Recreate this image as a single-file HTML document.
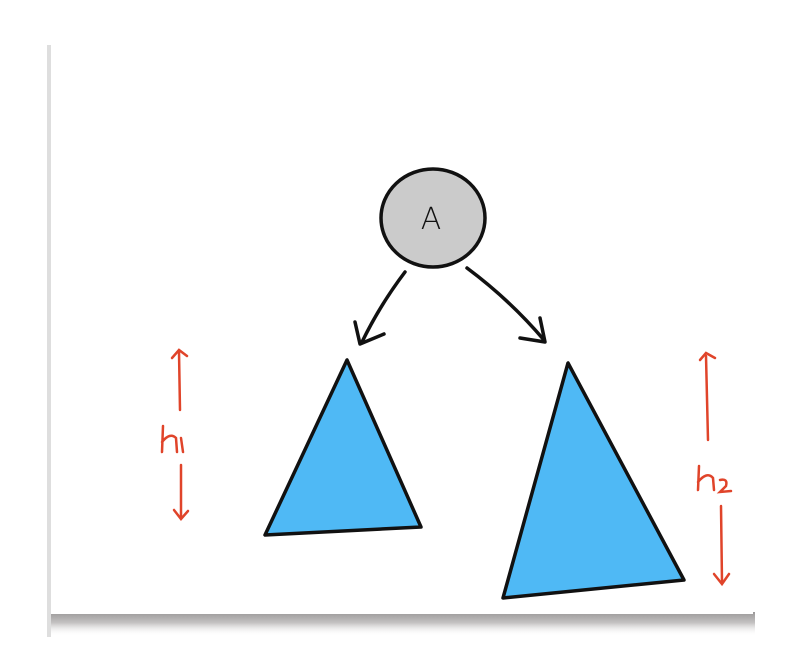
<!DOCTYPE html>
<html><head><meta charset="utf-8"><style>
html,body{margin:0;padding:0;background:#fff;}
svg{display:block;}
</style></head><body>
<svg width="800" height="656" viewBox="0 0 800 656" xmlns="http://www.w3.org/2000/svg">
  <defs>
    <linearGradient id="sh" x1="0" y1="0" x2="0" y2="1">
      <stop offset="0" stop-color="#9a9898"/>
      <stop offset="0.45" stop-color="#c4c2c2"/>
      <stop offset="1" stop-color="#fff" stop-opacity="0"/>
    </linearGradient>
  </defs>
  <rect x="50" y="612" width="705" height="24" fill="url(#sh)"/>
  <rect x="47" y="45" width="4" height="592" fill="#dedede"/>
  <rect x="51" y="45" width="702" height="569" fill="#fff"/>

  <g>
    <ellipse cx="433" cy="218" rx="52" ry="49" fill="#cbcbcb" stroke="#111" stroke-width="3.5"/>
    <text x="431" y="229" font-family="DejaVu Sans, sans-serif" font-size="30" font-weight="300" text-anchor="middle" fill="#111">A</text>
  </g>

  <g fill="none" stroke="#111" stroke-width="3.5" stroke-linecap="round" stroke-linejoin="round">
    <path d="M405 272 Q380 305 362 342"/>
    <path d="M355 322 L360 344 L384 334"/>
  </g>
  <g fill="none" stroke="#111" stroke-width="3.5" stroke-linecap="round" stroke-linejoin="round">
    <path d="M467 268 Q510 300 544 340"/>
    <path d="M520 338 L545 342 L540 318"/>
  </g>

  <polygon points="347,360 265,535 421,527" fill="#4fb9f5" stroke="#111" stroke-width="3.5" stroke-linejoin="round"/>
  <polygon points="568,363 503,598 684,580" fill="#4fb9f5" stroke="#111" stroke-width="3.5" stroke-linejoin="round"/>

  <g fill="none" stroke="#e0442a" stroke-width="2.5" stroke-linecap="round">
    <path d="M179 352 L180 410"/>
    <path d="M172 358 L179 350 L187 356"/>
    <path d="M181 465 L181 518"/>
    <path d="M174 510 L181 519 L188 511"/>
    <path d="M163 426 L162 452 M162 442 Q170 432 176 438 L177 452 M181 438 L183 452"/>
  </g>
  <g fill="none" stroke="#e0442a" stroke-width="2.5" stroke-linecap="round">
    <path d="M706 356 L708 440"/>
    <path d="M700 360 L706 353 L715 358"/>
    <path d="M721 506 L722 582"/>
    <path d="M714 574 L722 584 L729 574"/>
    <path d="M699 466 L698 490 M698 482 Q707 471 713 478 L714 490 M720 480 Q728 478 726 486 L720 492 L731 491"/>
  </g>
</svg>
</body></html>
